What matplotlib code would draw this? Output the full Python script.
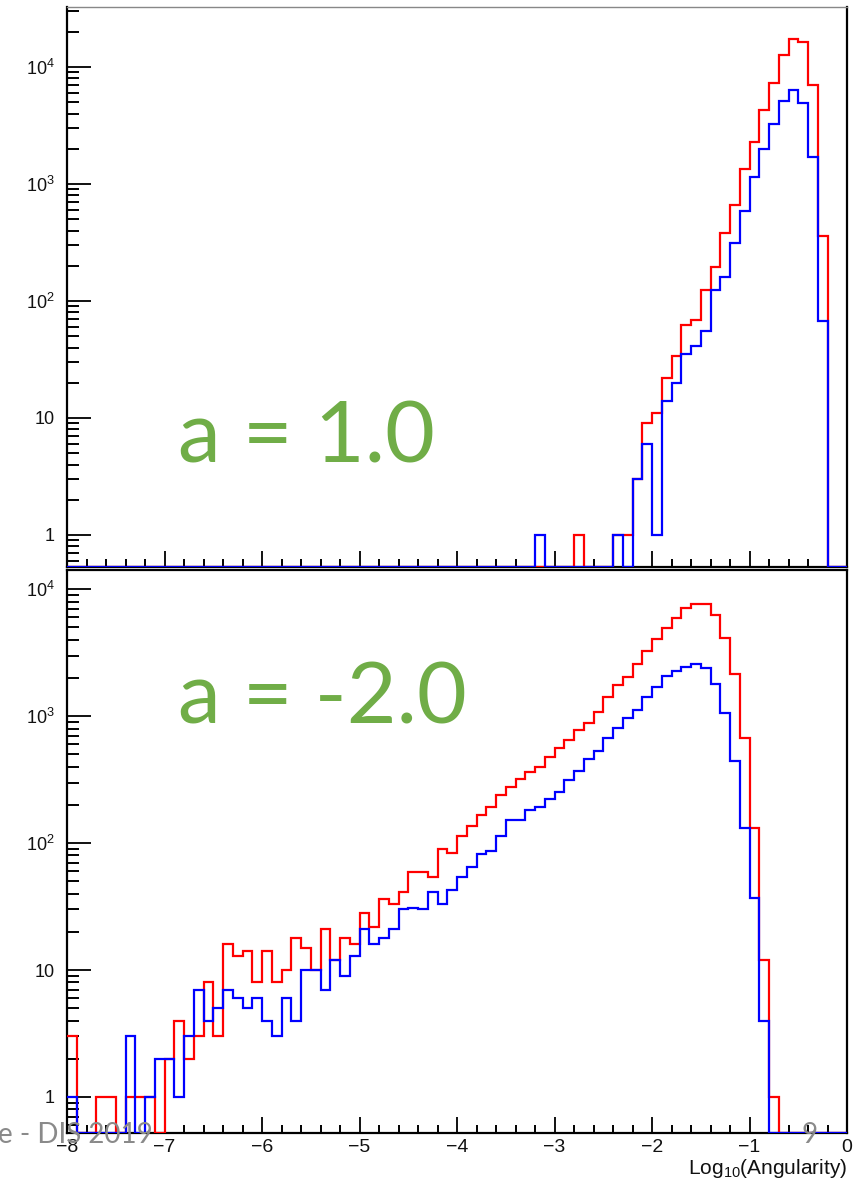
import numpy as np
import matplotlib
matplotlib.use("Agg")
import matplotlib.pyplot as plt
from matplotlib.ticker import (FixedLocator, FixedFormatter, LogLocator,
                               MultipleLocator, NullFormatter)

# ---------------- data (80 bins of Log10(Angularity), -8 .. 0) ----------------
x_min, x_max, n_bins = -8.0, 0.0, 80

# a = 1.0 panel
top_red = [0]*52 + [1, 0, 0, 0,
           1, 1, 3, 9, 11, 22, 34, 62, 69, 124,
           196, 378, 659, 1333, 2306, 4260, 7360, 12700, 17500, 16500,
           7020, 357, 0, 0]
top_blue = [0]*48 + [1, 0, 0, 0, 0, 0, 0, 0,
            1, 0, 3, 6, 1, 14, 20, 35, 41, 55,
            124, 159, 311, 593, 1140, 1976, 3270, 5100, 6310, 4900,
            1715, 68, 0, 0]

# a = -2.0 panel
bot_red = [3, 0, 0, 1, 1, 0, 1, 1, 1, 0,
           2, 4, 2, 3, 8, 3, 16, 13, 14, 8,
           14, 8, 10, 18, 15, 10, 21, 12, 18, 16,
           28, 22, 36, 33, 41, 59, 59, 54, 90, 83,
           114, 137, 166, 193, 239, 278, 319, 365, 399, 479,
           557, 645, 777, 880, 1070, 1410, 1760, 2047, 2590, 3250,
           4080, 4920, 5970, 7160, 7610, 7610, 6270, 4105, 2135, 668,
           132, 12, 1, 0, 0, 0, 0, 0, 0, 0]
bot_blue = [1, 0, 0, 0, 0, 0, 3, 0, 1, 2,
            2, 1, 3, 7, 4, 5, 7, 6, 5, 6,
            4, 3, 6, 4, 10, 10, 7, 12, 9, 13,
            21, 16, 18, 21, 30, 31, 30, 41, 33, 43,
            54, 65, 82, 87, 114, 152, 152, 182, 193, 221,
            252, 316, 367, 462, 534, 668, 801, 960, 1124, 1422,
            1707, 2060, 2267, 2454, 2576, 2381, 1781, 1065, 443, 132,
            37, 4, 0, 0, 0, 0, 0, 0, 0, 0]

y_tick_values = [1, 10, 100, 1000, 10000]
y_tick_labels = ["1", "10", r"$\mathregular{10^{2}}$", r"$\mathregular{10^{3}}$",
                 r"$\mathregular{10^{4}}$"]
panel_labels = ["a = 1.0", "a = -2.0"]
x_title = r"$\mathregular{Log_{10}(Angularity)}$"
footer_left = "e - DIS 2019"
footer_page = "9"

# ---------------- figure ----------------
plt.rcParams["font.family"] = ["Liberation Sans", "DejaVu Sans"]
plt.rcParams["mathtext.fontset"] = "custom"
plt.rcParams["mathtext.rm"] = "Liberation Sans"
plt.rcParams["axes.unicode_minus"] = True

W, H = 855, 1185
fig = plt.figure(figsize=(W / 100, H / 100), dpi=100)


def px_axes(l, t, r, b):
    return [l / W, 1 - b / H, (r - l) / W, (b - t) / H]


ax1 = fig.add_axes(px_axes(67, 7, 847, 567))
ax2 = fig.add_axes(px_axes(67, 570, 847, 1133))

edges = np.linspace(x_min, x_max, n_bins + 1)


def draw(ax, red, blue, ymin, ymax, xlabels):
    r = np.asarray(red, float)
    b = np.asarray(blue, float)
    ax.stairs(np.where(r > 0, r, ymin), edges, baseline=None,
              color="#ff0000", lw=1.6, zorder=3)
    ax.stairs(np.where(b > 0, b, ymin), edges, baseline=None,
              color="#0000ff", lw=1.6, zorder=4)
    ax.set_yscale("log")
    ax.set_ylim(ymin, ymax)
    ax.set_xlim(x_min, x_max)
    ax.yaxis.set_major_locator(FixedLocator(y_tick_values))
    ax.yaxis.set_major_formatter(FixedFormatter(y_tick_labels))
    ax.yaxis.set_minor_locator(LogLocator(base=10, subs=np.arange(2, 10), numticks=20))
    ax.yaxis.set_minor_formatter(NullFormatter())
    ax.xaxis.set_major_locator(MultipleLocator(1))
    ax.xaxis.set_minor_locator(MultipleLocator(0.2))
    ax.tick_params(axis="y", which="major", direction="in", length=17, width=1.4,
                   left=True, right=False, labelsize=13, pad=9, colors="#111111")
    ax.tick_params(axis="y", which="minor", direction="in", length=8.5, width=1.4,
                   left=True, right=False)
    ax.tick_params(axis="x", which="major", direction="in", length=11.5, width=1.4,
                   bottom=True, top=False, labelsize=14, pad=4,
                   labelbottom=xlabels, colors="#111111")
    ax.tick_params(axis="x", which="minor", direction="in", length=6, width=1.4,
                   bottom=True, top=False)
    for s in ax.spines.values():
        s.set_linewidth(1.6)
        s.set_color("black")


draw(ax1, top_red, top_blue, 0.5326, 32580, False)
draw(ax2, bot_red, bot_blue, 0.520, 14190, True)
ax1.spines["top"].set_color("#888888")
ax1.spines["top"].set_linewidth(1.0)

green = "#70AD47"
fig.text(178 / W, 1 - 463 / H, panel_labels[0], family=["Lato", "DejaVu Sans"],
         fontsize=62, color=green, ha="left", va="baseline")
fig.text(178 / W, 1 - 723 / H, panel_labels[1], family=["Lato", "DejaVu Sans"],
         fontsize=62, color=green, ha="left", va="baseline")

fig.text(847 / W, 1 - 1174 / H, x_title, fontsize=15, ha="right", va="baseline",
         color="#111111")

fig.text(-2 / W, 1 - 1143 / H, footer_left, family=["Lato", "DejaVu Sans"],
         fontsize=20, color="#8a8a8a", ha="left", va="baseline")
fig.text(810 / W, 1 - 1143 / H, footer_page, family=["Lato", "DejaVu Sans"],
         fontsize=20, color="#8a8a8a", ha="center", va="baseline")

fig.savefig("out.png", dpi=100)
